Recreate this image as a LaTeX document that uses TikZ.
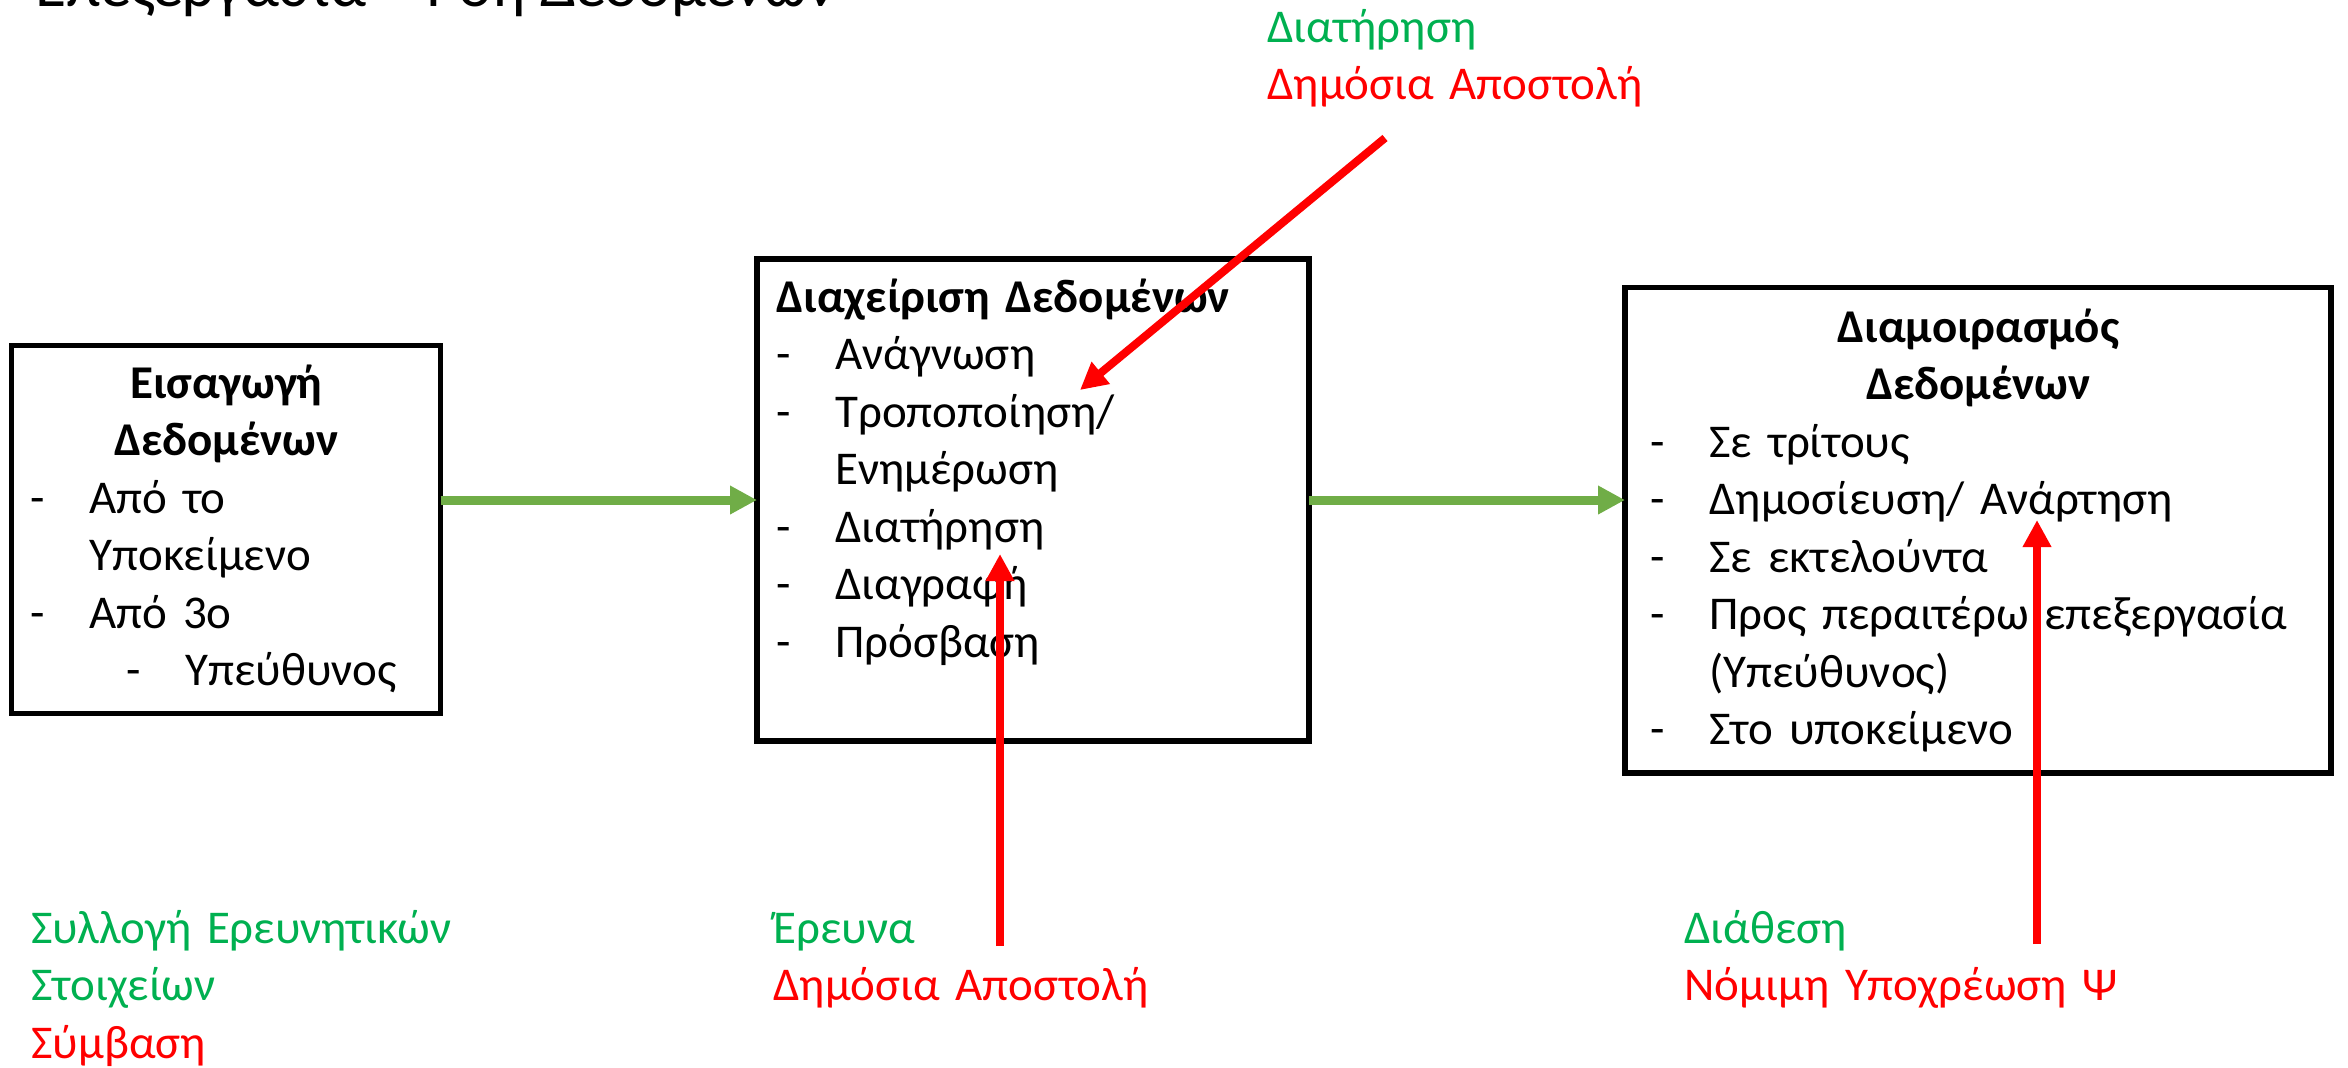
\documentclass[tikz,border=0pt]{standalone}
\usepackage{fontspec}
\setmainfont{Carlito}
\usetikzlibrary{arrows.meta}

\definecolor{flowgreen}{HTML}{70AD47}
\definecolor{notegreen}{HTML}{00B050}
\definecolor{notered}{HTML}{FF0000}

\newcommand{\dashit}[1]{\makebox[29.5pt][l]{-}#1}
\newcommand{\headln}[2]{\makebox[#1]{\bfseries #2}}

\begin{document}
\begin{tikzpicture}[
  stage/.style={draw=black, line width=2.75pt, outer sep=0pt, inner sep=0pt},
  stagetext/.style={anchor=base west, inner sep=0pt, align=left, text width=360pt,
                    font=\fontsize{23.5}{28.75}\selectfont},
  flow/.style={draw=flowgreen, line width=4.5pt, -{Triangle[length=13.5pt,width=13.5pt]}},
  basis/.style={draw=notered, line width=4pt, -{Triangle[length=13.5pt,width=13.5pt]}}
]
\useasboundingbox (0,0) rectangle (1174pt,-533.5pt);
\clip (0,0) rectangle (1174pt,-533.5pt);

\node[anchor=base west, inner sep=0pt, font=\fontsize{31.8}{38}\selectfont] (title)
  at (17.5pt,-3pt) {Επεξεργασία – Ροή Δεδομένων};

  \node[stage, minimum width=214.5pt, minimum height=184pt]   (intake) at (113pt,-264.75pt) {};
  \node[stage, minimum width=276pt,   minimum height=241pt]   (mgmt)   at (516.5pt,-250pt) {};
  \node[stage, minimum width=353pt,   minimum height=242.75pt] (share) at (989pt,-265.1pt) {};

  \node[stagetext] (intaketxt) at (15pt,-199pt)
    {\headln{196pt}{Εισαγωγή}\\ \headln{196pt}{Δεδομένων}\\
     \dashit{Από το}\\ \hspace*{29.5pt}Υποκείμενο\\ \dashit{Από 3ο}\\
     \hspace*{48pt}\dashit{Υπεύθυνος}};
  \node[stagetext] (mgmttxt) at (388pt,-156pt)
    {\textbf{Διαχείριση Δεδομένων}\\ \dashit{Ανάγνωση}\\ \dashit{Τροποποίηση/}\\
     \hspace*{29.5pt}Ενημέρωση\\ \dashit{Διατήρηση}\\ \dashit{Διαγραφή}\\ \dashit{Πρόσβαση}};
  \node[stagetext] (sharetxt) at (825pt,-171pt)
    {\headln{328pt}{Διαμοιρασμός}\\ \headln{328pt}{Δεδομένων}\\ \dashit{Σε τρίτους}\\
     \dashit{Δημοσίευση/ Ανάρτηση}\\ \dashit{Σε εκτελούντα}\\ \dashit{Προς περαιτέρω επεξεργασία}\\
     \hspace*{29.5pt}(Υπεύθυνος)\\ \dashit{Στο υποκείμενο}};

  \node[stagetext] (topnote) at (633.5pt,-21pt)
    {\textcolor{notegreen}{Διατήρηση}\\ \textcolor{notered}{Δημόσια Αποστολή}};
  \node[stagetext] (intakenote) at (15.5pt,-471.5pt)
    {\textcolor{notegreen}{Συλλογή Ερευνητικών}\\ \textcolor{notegreen}{Στοιχείων}\\
     \textcolor{notered}{Σύμβαση}};
  \node[stagetext] (mgmtnote) at (386.5pt,-471.5pt)
    {\textcolor{notegreen}{Έρευνα}\\ \textcolor{notered}{Δημόσια Αποστολή}};
  \node[stagetext] (sharenote) at (842pt,-471.5pt)
    {\textcolor{notegreen}{Διάθεση}\\ \textcolor{notered}{Νόμιμη Υποχρέωση Ψ}};

  \draw[flow] (intake.east |- mgmt.west) -- (mgmt.west);
  \draw[flow] (mgmt.east) -- (share.west |- mgmt.east);

  \coordinate (keepsrc) at (692.5pt,-69pt);
  \coordinate (keepdst) at (540pt,-195pt);
  \coordinate (searchsrc) at (500pt,-473pt);
  \coordinate (searchdst) at (500pt,-277pt);
  \coordinate (dutysrc) at (1018.5pt,-472pt);
  \coordinate (dutydst) at (1018.5pt,-260pt);
  \draw[basis] (keepsrc) -- (keepdst);
  \draw[basis] (searchsrc) -- (searchdst);
  \draw[basis] (dutysrc) -- (dutydst);

\end{tikzpicture}
\end{document}
